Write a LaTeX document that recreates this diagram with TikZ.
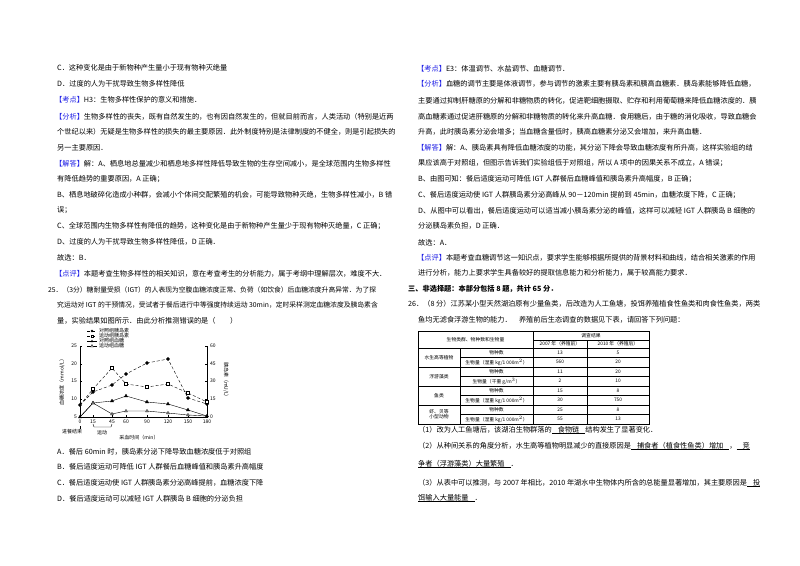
\documentclass[tikz,border=0pt]{standalone}
\usepackage{fontspec}
\setmainfont{Noto Sans CJK SC}
\usetikzlibrary{plotmarks}
\definecolor{kd}{RGB}{30,30,230}
\newcommand{\kb}[1]{{\color{kd}【#1】}}
\newcommand{\ans}[1]{\leavevmode\setbox0\hbox{#1}\rlap{\rule[-1.5pt]{\wd0}{0.4pt}}\box0}
\tikzset{
 t/.style={anchor=west,inner sep=0pt,font=\fontsize{7.2}{9}\selectfont},
 ts/.style={anchor=west,inner sep=0pt,font=\fontsize{6.8}{9}\selectfont},
 sm/.style={inner sep=0pt,font=\fontsize{5}{6}\selectfont},
 tb/.style={inner sep=0pt,font=\fontsize{4.8}{5.2}\selectfont},
}
\begin{document}
\begin{tikzpicture}[x=1pt,y=-1pt]
\fill[white] (0,0) rectangle (800,565);
\useasboundingbox (0,0) rectangle (800,565);
% left column
\node[t] (l1) at (57,68) {C．这种变化是由于新物种产生量小于现有物种灭绝量};
\node[t] (l2) at (57,84) {D．过度的人为干扰导致生物多样性降低};
\node[t] (l3) at (55,100) {\kb{考点}H3：生物多样性保护的意义和措施．};
\node[t] (l4) at (55,117) {\kb{分析}生物多样性的丧失，既有自然发生的，也有因自然发生的，但就目前而言，人类活动（特别是近两};
\node[t] (l5) at (57,132) {个世纪以来）无疑是生物多样性的损失的最主要原因．此外制度特别是法律制度的不健全，则是引起损失的};
\node[t] (l6) at (57,148) {另一主要原因．};
\node[t] (l7) at (55,164) {\kb{解答}解：A、栖息地总量减少和栖息地多样性降低导致生物的生存空间减小，是全球范围内生物多样性};
\node[t] (l8) at (57,179) {有降低趋势的重要原因，A 正确；};
\node[t] (l9) at (57,195) {B、栖息地破碎化造成小种群，会减小个体间交配繁殖的机会，可能导致物种灭绝，生物多样性减小，B 错};
\node[t] (l10) at (57,210) {误；};
\node[t] (l11) at (57,226) {C、全球范围内生物多样性有降低的趋势，这种变化是由于新物种产生量少于现有物种灭绝量，C 正确；};
\node[t] (l12) at (57,242) {D、过度的人为干扰导致生物多样性降低，D 正确．};
\node[t] (l13) at (57,258) {故选：B．};
\node[t] (l14) at (55,274) {\kb{点评}本题考查生物多样性的相关知识，意在考查考生的分析能力，属于考纲中理解层次，难度不大．};
\node[ts] (l15) at (48,290) {25．（3分）糖耐量受损（IGT）的人表现为空腹血糖浓度正常、负荷（如饮食）后血糖浓度升高异常．为了探};
\node[ts] (l16) at (57,305) {究运动对 IGT 的干预情况，受试者于餐后进行中等强度持续运动 30min，定时采样测定血糖浓度及胰岛素含};
\node[t] (l17) at (57,321) {量，实验结果如图所示．由此分析推测错误的是（\quad\quad）};
\node[t] (l18) at (57,452) {A．餐后 60min 时，胰岛素分泌下降导致血糖浓度低于对照组};
\node[t] (l19) at (57,467) {B．餐后适度运动可降低 IGT 人群餐后血糖峰值和胰岛素升高幅度};
\node[t] (l20) at (57,483) {C．餐后适度运动使 IGT 人群胰岛素分泌高峰提前，血糖浓度下降};
\node[t] (l21) at (57,499) {D．餐后适度运动可以减轻 IGT 人群胰岛 B 细胞的分泌负担};
% chart axes
\draw[thin] (80,346) -- (80,417) -- (207,417) -- (207,346);
\foreach \vv/\yy in {5/417,10/399,15/381,20/364,25/346}{
  \draw (80,\yy) -- (82,\yy); \node[sm,anchor=east] (yl\vv) at (77,\yy) {\vv};}
\foreach \vv/\yy in {0/417,15/399,30/381,45/364,60/346}{
  \draw (207,\yy) -- (205,\yy); \node[sm,anchor=west] (yr\vv) at (210,\yy) {\vv};}
\foreach \vv/\xx in {0/80,15/93,45/112,60/126,90/147,120/168,150/188,180/207}{
  \draw (\xx,417) -- (\xx,415); \node[sm] (xt\vv) at (\xx,422) {\vv};}
\node[sm,rotate=90] (ylab) at (62,381) {血糖浓度（mmol/L）};
\node[sm,rotate=-90] (yrlab) at (226,381) {胰岛素（mU/L）};
\draw (80,426) -- (80,429);
\node[sm] (jc) at (72,432) {进餐结束};
\draw (93,424) -- (94,427) -- (111,427) -- (112,424);
\node[sm] (yd) at (102,433) {运动};
\node[sm] (cx) at (139,438) {采血时间（min）};
% data
\draw[densely dashed] plot coordinates {(80,405)(93,392)(112,385)(126,374)(147,363)(168,359)(188,398)(207,404)};
\draw plot[only marks,mark=*,mark size=1.6] coordinates {(80,405)(93,392)(112,385)(126,374)(147,363)(168,359)(188,398)(207,404)};
\draw[densely dashed] plot coordinates {(80,405)(93,389)(112,368)(126,384)(147,387)(168,384)(188,393)(207,402)};
\draw plot[only marks,mark=square*,mark size=1.6,mark options={fill=white}] coordinates {(93,389)(112,368)(126,384)(147,387)(168,384)(188,393)(207,402)};
\draw plot coordinates {(80,417)(93,403)(112,401)(126,396)(147,402)(168,404)(188,410)(207,416)};
\draw plot[only marks,mark=triangle*,mark size=1.8] coordinates {(80,417)(93,403)(112,401)(126,396)(147,402)(168,404)(188,410)(207,416)};
\draw plot coordinates {(80,417)(93,403)(112,414)(126,411)(147,411)(168,413)(188,415)(207,416)};
\draw plot[only marks,mark=triangle*,mark size=1.6,mark options={fill=white}] coordinates {(93,403)(112,414)(126,411)(147,411)(168,413)(188,415)};
% legend
\draw[densely dashed] (87,331) -- (97,331); \fill (92,331) circle (1.3);
\node[sm,anchor=west] (lg1) at (99,331) {对照组胰岛素};
\draw[densely dashed] (87,336) -- (97,336); \draw[fill=white] (90.8,334.8) rectangle (93.2,337.2);
\node[sm,anchor=west] (lg2) at (99,336) {运动组胰岛素};
\draw (87,341) -- (97,341); \fill (92,339.6) -- (93.3,342) -- (90.7,342) -- cycle;
\node[sm,anchor=west] (lg3) at (99,341) {对照组血糖};
\draw (87,346) -- (97,346); \draw[fill=white] (92,344.6) -- (93.3,347) -- (90.7,347) -- cycle;
\node[sm,anchor=west] (lg4) at (99,346) {运动组血糖};
% right column
\node[t] (r1) at (417,69) {\kb{考点}E3：体温调节、水盐调节、血糖调节．};
\node[t] (r2) at (417,84) {\kb{分析}血糖的调节主要是体液调节，参与调节的激素主要有胰岛素和胰高血糖素．胰岛素能够降低血糖，};
\node[t] (r3) at (418,101) {主要通过抑制肝糖原的分解和非糖物质的转化，促进靶细胞摄取、贮存和利用葡萄糖来降低血糖浓度的．胰};
\node[t] (r4) at (418,117) {高血糖素通过促进肝糖原的分解和非糖物质的转化来升高血糖．食用糖后，由于糖的消化吸收，导致血糖会};
\node[t] (r5) at (418,132) {升高，此时胰岛素分泌会增多；当血糖含量低时，胰高血糖素分泌又会增加，来升高血糖．};
\node[t] (r6) at (417,148) {\kb{解答}解：A、胰岛素具有降低血糖浓度的功能，其分泌下降会导致血糖浓度有所升高，这样实验组的结};
\node[t] (r7) at (418,163) {果应该高于对照组，但图示告诉我们实验组低于对照组，所以 A 项中的因果关系不成立，A 错误；};
\node[t] (r8) at (418,179) {B、由图可知：餐后适度运动可降低 IGT 人群餐后血糖峰值和胰岛素升高幅度，B 正确；};
\node[t] (r9) at (418,195) {C、餐后适度运动使 IGT 人群胰岛素分泌高峰从 90－120min 提前到 45min，血糖浓度下降，C 正确；};
\node[t] (r10) at (418,211) {D、从图中可以看出，餐后适度运动可以适当减小胰岛素分泌的峰值，这样可以减轻 IGT 人群胰岛 B 细胞的};
\node[t] (r11) at (418,226) {分泌胰岛素负担，D 正确．};
\node[t] (r12) at (418,243) {故选：A．};
\node[t] (r13) at (417,258) {\kb{点评}本题考查血糖调节这一知识点，要求学生能够根据所提供的背景材料和曲线，结合相关激素的作用};
\node[t] (r14) at (418,273) {进行分析，能力上要求学生具备较好的提取信息能力和分析能力，属于较高能力要求．};
\node[t,font=\fontsize{7.2}{9}\selectfont\bfseries] (r15) at (408,289) {三、非选择题：本部分包括 8 题，共计 65 分．};
\node[t] (r16) at (408,304) {26．（8 分）江苏某小型天然湖泊原有少量鱼类，后改造为人工鱼塘，投饵养殖植食性鱼类和肉食性鱼类，两类};
\node[t] (r17) at (418,320) {鱼均无滤食浮游生物的能力．\quad 养殖前后生态调查的数据见下表，请回答下列问题：};
% table
\draw[line width=0.8pt] (418,331) rectangle (649,424);
\draw[thin] (533,331) -- (533,424);
\draw[thin] (587,340) -- (587,424);
\draw[thin] (533,340) -- (649,340);
\draw[thin] (418,348) -- (649,348);
\draw[thin] (460,348) -- (460,424);
\foreach \yy in {357.5,376.5,395.5,414.5}{\draw[thin] (460,\yy) -- (649,\yy);}
\foreach \yy in {367,386,405}{\draw[thin] (418,\yy) -- (649,\yy);}
\node[tb] (h1) at (475.5,339.5) {生物类群、物种数和生物量};
\node[tb] (h2) at (591,335.5) {调查结果};
\node[tb] (h3) at (560,344) {2007 年（养殖前）};
\node[tb] (h4) at (618,344) {2010 年（养殖后）};
\node[tb] (g1) at (439,357.5) {水生高等植物};
\node[tb] (g2) at (439,376.5) {浮游藻类};
\node[tb] (g3) at (439,395.5) {鱼类};
\node[tb,align=center] (g4) at (439,414.5) {虾、贝等\\小型动物};
\foreach \ro/\yy/\pa/\pb/\pc in {1/352.75/物种数/13/5,2/362.25/{生物量（湿重 kg/1 000m$^2$）}/560/20,3/371.75/物种数/11/20,4/381.25/{生物量（干重 g/m$^3$）}/2/10,5/390.75/物种数/15/8,6/400.25/{生物量（湿重 kg/1 000m$^2$）}/30/750,7/409.75/物种数/25/8,8/419.25/{生物量（湿重 kg/1 000m$^2$）}/55/13}{
  \node[tb] (c\ro) at (496.5,\yy) {\pa};
  \node[tb] (d\ro) at (560,\yy) {\pb};
  \node[tb] (e\ro) at (618,\yy) {\pc};}
\node[t] (q1) at (418,430) {（1）改为人工鱼塘后，该湖泊生物群落的\ans{\hspace{6pt}食物链\hspace{6pt}}结构发生了显著变化．};
\node[t] (q2) at (418,446) {（2）从种间关系的角度分析，水生高等植物明显减少的直接原因是\ans{\hspace{6pt}捕食者（植食性鱼类）增加\hspace{6pt}}，\ans{\hspace{6pt}竞}};
\node[t] (q3) at (418,464) {\ans{争者（浮游藻类）大量繁殖\hspace{6pt}}．};
\node[t] (q4) at (418,483) {（3）从表中可以推测，与 2007 年相比，2010 年湖水中生物体内所含的总能量显著增加，其主要原因是\ans{\hspace{6pt}投}};
\node[t] (q5) at (418,498) {\ans{饵输入大量能量\hspace{6pt}}．};
\end{tikzpicture}
\end{document}
